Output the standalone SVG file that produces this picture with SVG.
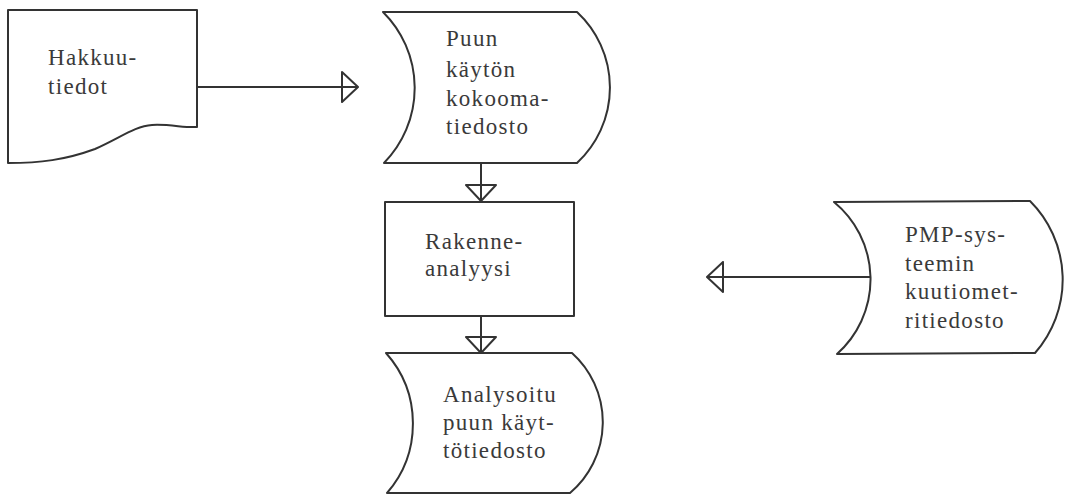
<svg xmlns="http://www.w3.org/2000/svg" width="1067" height="501" viewBox="0 0 1067 501">
<style>
.shape{fill:#fff;stroke:#333;stroke-width:2;stroke-linejoin:round}
.conn{stroke:#333;stroke-width:2;fill:none}
text{font-family:"Liberation Serif","Times New Roman",serif;font-size:23px;letter-spacing:1.3px;fill:#3a3a3a}
</style>
<defs>
<marker id="tri" viewBox="0 0 18 32" refX="17" refY="16" markerWidth="18" markerHeight="32" markerUnits="userSpaceOnUse" orient="auto">
<path d="M1,1 L17,16 L1,31 Z" fill="none" stroke="#333" stroke-width="2" stroke-linejoin="round"/>
</marker>
</defs>
<rect width="1067" height="501" fill="#fff"/>
<g id="connectors">
<line class="conn" x1="197" y1="87" x2="358" y2="87" marker-end="url(#tri)"/>
<line class="conn" x1="481" y1="163" x2="481" y2="201" marker-end="url(#tri)"/>
<line class="conn" x1="481" y1="316" x2="481" y2="353" marker-end="url(#tri)"/>
<line class="conn" x1="870" y1="277" x2="707" y2="277" marker-end="url(#tri)"/>
</g>
<g id="hakkuutiedot">
<path class="shape" d="M8,10 L197,10 L197,127 C185,128 170,124 152,125 C135,126 120,138 95,149 C65,160 40,163 8,163 Z"/>
<text x="48" y="65">Hakkuu-</text>
<text x="48" y="94">tiedot</text>
</g>
<g id="kokoomatiedosto">
<path class="shape" d="M383,12 L577,12 A103,103 0 0 1 577,163 L384,163 A107,107 0 0 0 383,12 Z"/>
<text x="446" y="46">Puun</text>
<text x="446" y="77">käytön</text>
<text x="446" y="106">kokooma-</text>
<text x="446" y="134">tiedosto</text>
</g>
<g id="rakenneanalyysi">
<rect class="shape" x="385" y="202" width="189" height="114"/>
<text x="425" y="249">Rakenne-</text>
<text x="425" y="276">analyysi</text>
</g>
<g id="analysoitu">
<path class="shape" d="M386,353 L572,353 A93,93 0 0 1 570,493 L387,493 A106,106 0 0 0 386,353 Z"/>
<text x="443" y="402">Analysoitu</text>
<text x="443" y="430">puun käyt-</text>
<text x="443" y="458">tötiedosto</text>
</g>
<g id="pmp">
<path class="shape" d="M834,202 L1030,201 A111,111 0 0 1 1035,353 L837,354 A100,100 0 0 0 834,202 Z"/>
<text x="905" y="242">PMP-sys-</text>
<text x="905" y="271">teemin</text>
<text x="905" y="299">kuutiomet-</text>
<text x="905" y="328">ritiedosto</text>
</g>
</svg>
